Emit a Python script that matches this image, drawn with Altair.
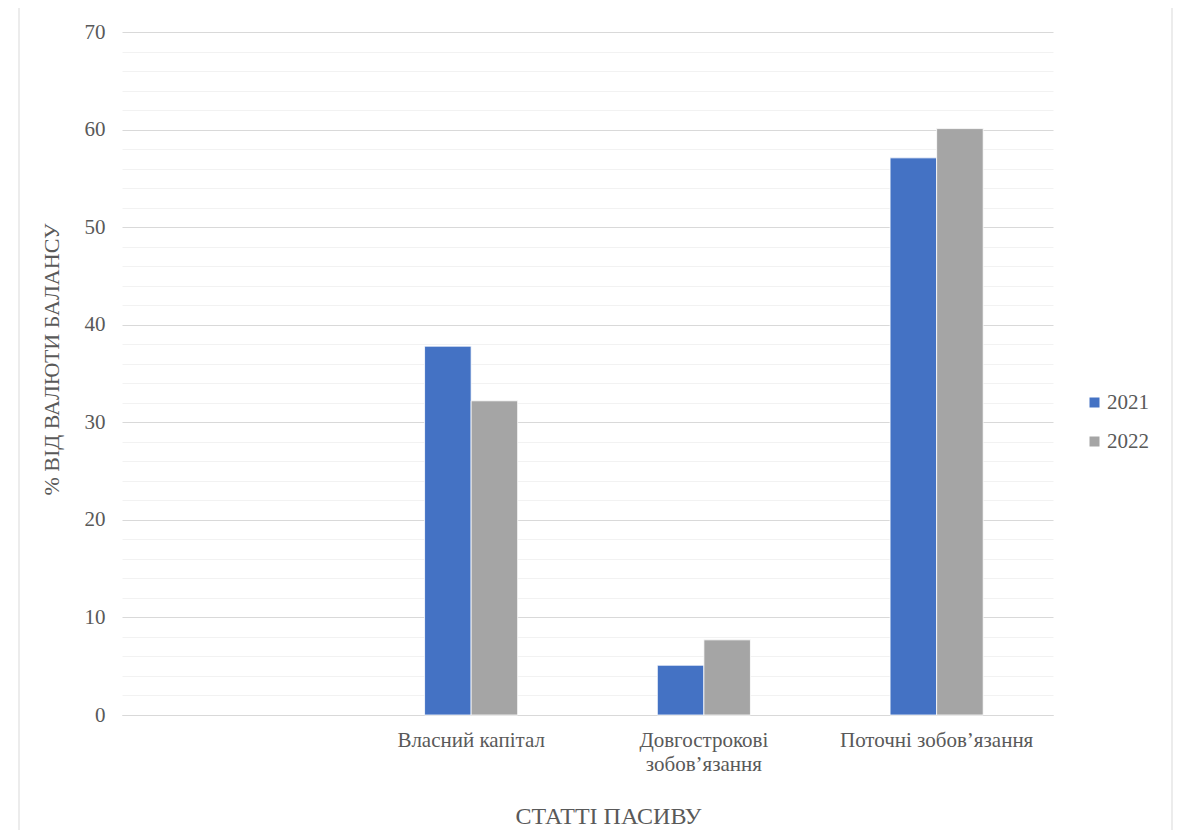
import altair as alt
import pandas as pd

categories = ["", "Власний капітал", "Довгострокові|зобов’язання", "Поточні зобов’язання"]
series = ["2021", "2022"]
values_2021 = [None, 37.8, 5.1, 57.1]
values_2022 = [None, 32.2, 7.7, 60.1]
colors = ["#4472C4", "#A5A5A5"]

rows = []
for c, a, b in zip(categories, values_2021, values_2022):
    if a is not None:
        rows.append({"cat": c, "year": "2021", "value": a})
    if b is not None:
        rows.append({"cat": c, "year": "2022", "value": b})
df = pd.DataFrame(rows)

FONT = "'Times New Roman', 'Liberation Serif', serif"
TXT = "#595959"

bars = alt.Chart(df).mark_bar(stroke="white", strokeWidth=0.8).encode(
    x=alt.X("cat:N",
            scale=alt.Scale(domain=categories, paddingInner=0.6, paddingOuter=0.3),
            sort=categories,
            axis=alt.Axis(title="СТАТТІ ПАСИВУ", labelExpr="split(datum.label, '|')",
                          labelAngle=0, labelFont=FONT, labelFontSize=21, labelColor=TXT,
                          labelPadding=14, labelLineHeight=24, labelBaseline="top",
                          labelLimit=0, labelOverlap=False,
                          ticks=False, domainColor="#d9d9d9", domainWidth=1,
                          titleFont=FONT, titleFontSize=24, titleFontWeight="normal",
                          titleColor=TXT, titleX=486, titleY=101, titleBaseline="middle",
                          titleAnchor="start", titleAlign="center", grid=False)),
    xOffset=alt.XOffset("year:N", sort=series),
    y=alt.Y("value:Q",
            scale=alt.Scale(domain=[0, 70], nice=False),
            axis=alt.Axis(title="% ВІД ВАЛЮТИ БАЛАНСУ", values=list(range(0, 71, 2)),
                          labelExpr="datum.value % 10 === 0 ? datum.label : ''",
                          grid=True,
                          gridColor={"condition": {"test": "datum.value % 10 === 0", "value": "#d9d9d9"},
                                     "value": "#f2f2f2"},
                          gridWidth=1, ticks=False, tickSize=0, domain=False,
                          labelFont=FONT, labelFontSize=21, labelColor=TXT, labelPadding=17,
                          titleFont=FONT, titleFontSize=22, titleFontWeight="normal",
                          titleColor=TXT, titleAngle=270, titleX=-64, titleY=327,
                          titleAlign="center", titleBaseline="alphabetic")),
    color=alt.Color("year:N", scale=alt.Scale(domain=series, range=colors),
                    legend=alt.Legend(title=None, orient="none", legendX=962, legendY=360,
                                      symbolType="square", symbolSize=100, symbolStrokeWidth=0,
                                      labelFont=FONT, labelFontSize=21, labelColor=TXT,
                                      rowPadding=17, labelOffset=2)),
)

frame = alt.Chart(pd.DataFrame({"a": [0]})).mark_rect(
    fill=None, stroke="#d9d9d9", strokeWidth=1
).encode(x=alt.value(-103), x2=alt.value(1050), y=alt.value(-26), y2=alt.value(830))

chart = alt.layer(frame, bars).properties(
    width=931, height=683,
    autosize=alt.AutoSizeParams(type="none"),
    padding={"left": 114, "top": 24, "right": 122, "bottom": 115},
).configure_view(stroke=None)

chart.save("out.html", embed_options={"renderer": "svg", "actions": False})
